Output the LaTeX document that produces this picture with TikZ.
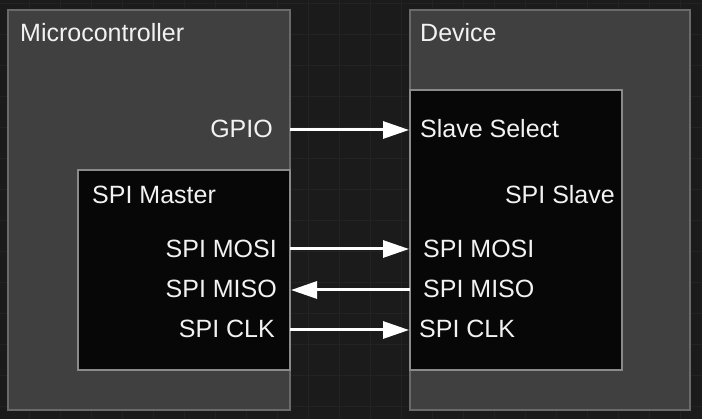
\documentclass[tikz,border=0pt]{standalone}
\usepackage{fontspec}
\setmainfont{Liberation Sans}
\usetikzlibrary{arrows.meta}
\definecolor{bgc}{HTML}{1B1B1B}
\definecolor{gridc}{HTML}{232323}
\definecolor{outerfill}{HTML}{404040}
\definecolor{outerline}{HTML}{6A6A6A}
\definecolor{innerfill}{HTML}{070707}
\definecolor{innerline}{HTML}{8A8A8A}
\definecolor{txt}{HTML}{F2F2F2}
\tikzset{
  outerbox/.style={draw=outerline, fill=outerfill, line width=1.5pt},
  innerbox/.style={draw=innerline, fill=innerfill, line width=1.2pt},
  lbl/.style={inner sep=0pt, text=txt, font=\fontsize{25}{28}\selectfont},
  sig/.style={draw=white, line width=3pt, -{Triangle[length=26pt,width=17pt]}},
}
\begin{document}
\begin{tikzpicture}[x=1pt,y=-1pt]
\useasboundingbox (0,0) rectangle (702,419);
\fill[bgc] (0,0) rectangle (702,419);
\foreach \gx in {29,60,...,702} \draw[gridc, line width=1pt] (\gx,0) -- (\gx,419);
\foreach \gy in {4,35,...,419} \draw[gridc, line width=1pt] (0,\gy) -- (702,\gy);
% boxes
\draw[outerbox] (8,10) rectangle (290,410);
\draw[outerbox] (410,10) rectangle (690,410);
\draw[innerbox] (78,170) rectangle (290,370);
\draw[innerbox] (410,90) rectangle (622,370);
% titles
\node[lbl, anchor=base west] (mcu) at (20,42) {Microcontroller};
\node[lbl, anchor=base west] (dev) at (420,42) {Device};
\node[lbl, anchor=base west] (master) at (92,204) {SPI Master};
\node[lbl, anchor=base east] (slave) at (615,204) {SPI Slave};
% pin labels
\node[lbl, anchor=base east] (gpio) at (273,138) {GPIO};
\node[lbl, anchor=base west] (ss) at (420,138) {Slave Select};
\node[lbl, anchor=base east] (mosiL) at (277,258) {SPI MOSI};
\node[lbl, anchor=base east] (misoL) at (277,298) {SPI MISO};
\node[lbl, anchor=base east] (clkL) at (275,338) {SPI CLK};
\node[lbl, anchor=base west] (mosiR) at (423,258) {SPI MOSI};
\node[lbl, anchor=base west] (misoR) at (423,298) {SPI MISO};
\node[lbl, anchor=base west] (clkR) at (419,338) {SPI CLK};
% ports
\coordinate (gpioP) at (290,130);
\coordinate (ssP) at (409,130);
\coordinate (mosiLP) at (290,249);
\coordinate (mosiRP) at (409,249);
\coordinate (misoLP) at (291,290);
\coordinate (misoRP) at (410,290);
\coordinate (clkLP) at (290,330);
\coordinate (clkRP) at (409,330);
% connectors
\draw[sig] (gpioP) -- (ssP);
\draw[sig] (mosiLP) -- (mosiRP);
\draw[sig] (misoRP) -- (misoLP);
\draw[sig] (clkLP) -- (clkRP);
\end{tikzpicture}
\end{document}
